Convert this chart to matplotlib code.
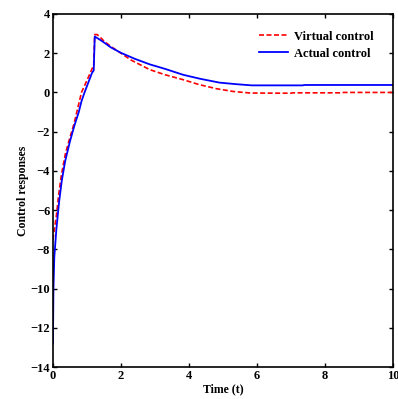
import matplotlib
matplotlib.use("Agg")
import matplotlib.pyplot as plt

plt.rcParams['font.family'] = ['Liberation Serif', 'DejaVu Serif']
plt.rcParams['font.weight'] = 'bold'

# virtual control (red dashed)
t_virtual = [0, 0.04, 0.1, 0.17, 0.25, 0.37, 0.5, 0.62, 0.73, 0.84, 0.97, 1.1, 1.2,
             1.23, 1.3, 1.4, 1.5, 1.7, 2.0, 2.3, 2.85, 3.3, 3.83, 4.3, 4.81, 5.3, 5.8,
             7.0, 7.05, 8.5, 8.55, 10]
u_virtual = [-7.5, -7.0, -6.3, -5.2, -4.2, -3.1, -2.3, -1.6, -0.8, 0.0, 0.5, 1.0, 1.4,
             2.95, 2.95, 2.8, 2.62, 2.35, 2.0, 1.65, 1.16, 0.9, 0.65, 0.4, 0.19, 0.05, -0.03,
             -0.04, -0.02, -0.02, 0.0, 0.0]

# actual control (blue solid)
t_actual = [0, 0.015, 0.04, 0.1, 0.18, 0.26, 0.36, 0.5, 0.63, 0.76, 0.84, 0.93, 1.04, 1.15,
            1.2, 1.23, 1.38, 1.5, 1.7, 2.0, 2.4, 2.85, 3.3, 3.83, 4.32, 4.9, 5.4, 5.85,
            7.35, 7.4, 10]
u_actual = [-12.8, -10.0, -8.4, -7.0, -5.6, -4.5, -3.5, -2.5, -1.7, -1.0, -0.45, 0.0, 0.5, 1.0,
            1.12, 2.85, 2.69, 2.55, 2.3, 2.02, 1.72, 1.43, 1.2, 0.9, 0.7, 0.5, 0.42, 0.36,
            0.36, 0.38, 0.38]

x_ticks = [0, 2, 4, 6, 8, 10]
y_ticks = [-14, -12, -10, -8, -6, -4, -2, 0, 2, 4]

fig = plt.figure(figsize=(3.98, 3.99), dpi=100)
ax = fig.add_axes([0.133, 0.080, 0.854, 0.885])

ax.plot(t_virtual, u_virtual, color='red', linestyle='--', linewidth=1.2,
        dashes=(3, 1.5), label='Virtual control')
ax.plot(t_actual, u_actual, color='blue', linestyle='-', linewidth=1.3,
        label='Actual control')

ax.set_xlim(0, 10)
ax.set_ylim(-14, 4)
ax.set_xticks(x_ticks)
ax.set_yticks(y_ticks)
ax.tick_params(direction='in', top=True, right=True, length=3, width=1,
               labelsize=9, pad=2)
for lab in ax.get_xticklabels() + ax.get_yticklabels():
    lab.set_fontweight('bold')
for sp in ax.spines.values():
    sp.set_linewidth(1.2)

ax.set_xlabel('Time (t)', fontsize=8.5, fontweight='bold', labelpad=1)
ax.set_ylabel('Control responses', fontsize=8.5, fontweight='bold', labelpad=1)

ax.legend(loc='upper right', frameon=False, handlelength=2.3,
          handletextpad=0.5, bbox_to_anchor=(0.978, 0.985), labelspacing=0.4,
          prop={'weight': 'bold', 'size': 9})

fig.savefig('out.png', dpi=100)
